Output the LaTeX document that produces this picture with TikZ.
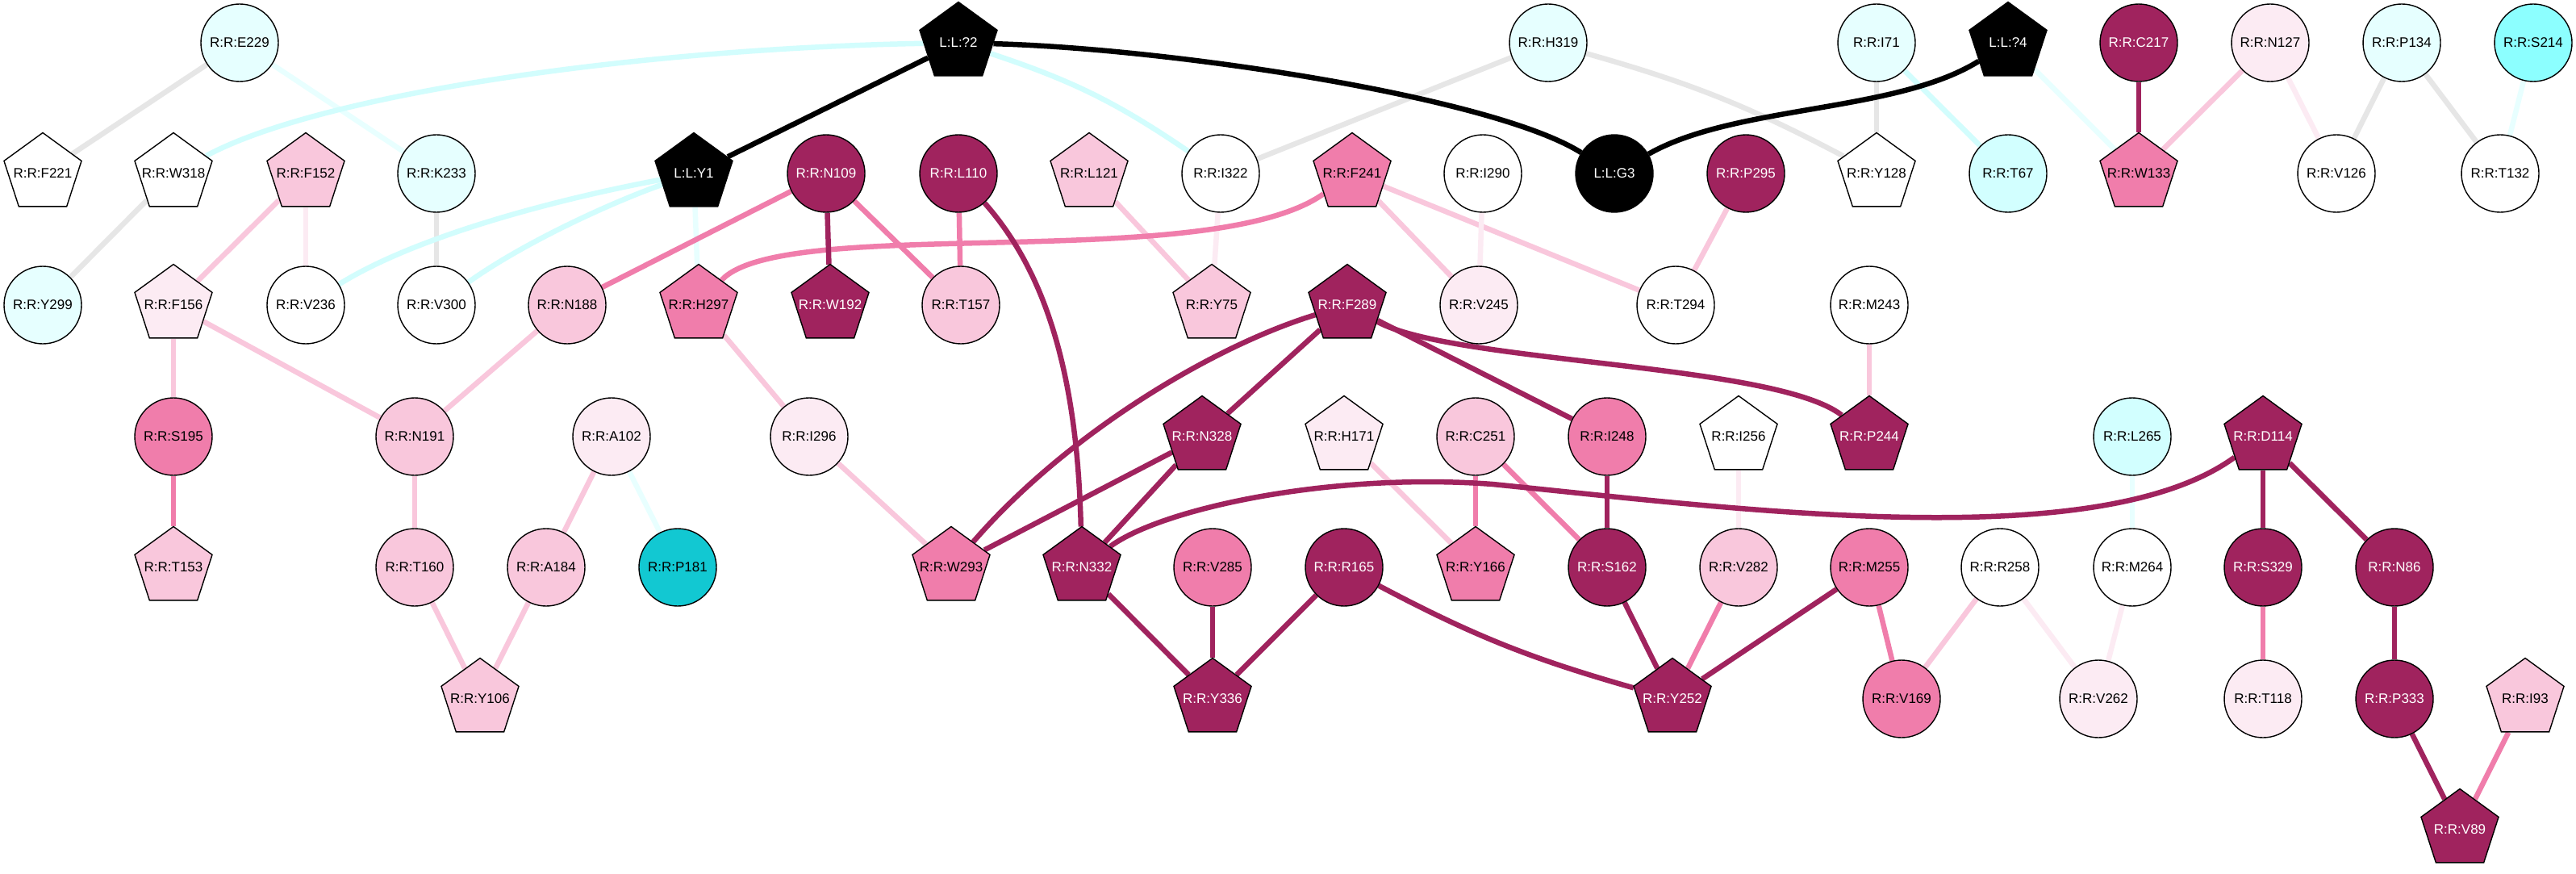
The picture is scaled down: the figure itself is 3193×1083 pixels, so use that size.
\documentclass[tikz,border=0pt]{standalone}
\usepackage{fontspec}
\setmainfont{Liberation Sans}
\usetikzlibrary{shapes.geometric}
\definecolor{cdm}{HTML}{A0235E}
\definecolor{cmp}{HTML}{F07DAB}
\definecolor{clp}{HTML}{F9C7DC}
\definecolor{cvl}{HTML}{FCEBF3}
\definecolor{cya}{HTML}{E6FFFF}
\definecolor{cyb}{HTML}{D2FFFF}
\definecolor{cyc}{HTML}{8CFFFF}
\definecolor{cyd}{HTML}{12C8D2}
\definecolor{cgr}{HTML}{E6E6E6}
\definecolor{ecya}{HTML}{D2FDFD}
\definecolor{ecyb}{HTML}{E8FFFF}
\pgfdeclarelayer{back}
\pgfdeclarelayer{edges}
\pgfsetlayers{back,edges,main}
\newcommand\zw[1]{\makebox[0pt]{#1}}
\begin{document}
\begin{tikzpicture}[x=1pt,y=1pt,
 nb/.style={draw=black,line width=1.4pt,inner sep=0pt,font=\fontsize{17}{20}\selectfont},
 cn/.style={nb,circle,minimum size=96pt},
 pn/.style={nb,regular polygon,regular polygon sides=5,minimum size=101pt},
 fwh/.style={fill=white},
 fca/.style={fill=cya}, fcb/.style={fill=cyb}, fcc/.style={fill=cyc}, fcd/.style={fill=cyd},
 fbk/.style={fill=black,text=white},
 fdm/.style={fill=cdm,text=white},
 fmp/.style={fill=cmp}, flp/.style={fill=clp}, fvl/.style={fill=cvl},
 ed/.style={line width=6.5pt},
 egr/.style={ed,draw=cgr}, eca/.style={ed,draw=ecya}, ecb/.style={ed,draw=ecyb},
 elp/.style={ed,draw=clp}, evl/.style={ed,draw=cvl}, emp/.style={ed,draw=cmp},
 edm/.style={ed,draw=cdm}, ebk/.style={ed,draw=black}]
\begin{pgfonlayer}{back}
\fill[white] (0,0) rectangle (3193,-1083);
\end{pgfonlayer}
\useasboundingbox (0,0) rectangle (3193,-1083);
% row 0
\node[cn,fca] (E229) at (297,-53) {R:R:E229};
\node[pn,fbk] (q2) at (1188,-53) {\zw{L:L:?2}};
\node[cn,fca] (H319) at (1919,-53) {R:R:H319};
\node[cn,fca] (I71) at (2326,-53) {R:R:I71};
\node[pn,fbk] (q4) at (2489,-53) {\zw{L:L:?4}};
\node[cn,fdm] (C217) at (2651,-53) {R:R:C217};
\node[cn,fvl] (N127) at (2814,-53) {R:R:N127};
\node[cn,fca] (P134) at (2977,-53) {R:R:P134};
\node[cn,fcc] (S214) at (3140,-53) {R:R:S214};
% row 1
\node[pn,fwh] (F221) at (53,-215) {\zw{R:R:F221}};
\node[pn,fwh] (W318) at (215,-215) {\zw{R:R:W318}};
\node[pn,flp] (F152) at (379,-215) {\zw{R:R:F152}};
\node[cn,fca] (K233) at (541,-215) {R:R:K233};
\node[pn,fbk] (Y1) at (860,-215) {\zw{L:L:Y1}};
\node[cn,fdm] (N109) at (1024,-215) {R:R:N109};
\node[cn,fdm] (L110) at (1188,-215) {R:R:L110};
\node[pn,flp] (L121) at (1350,-215) {\zw{R:R:L121}};
\node[cn,fwh] (I322) at (1513,-215) {R:R:I322};
\node[pn,fmp] (F241) at (1676,-215) {\zw{R:R:F241}};
\node[cn,fwh] (I290) at (1838,-215) {R:R:I290};
\node[cn,fbk] (G3) at (2001,-215) {L:L:G3};
\node[cn,fdm] (P295) at (2164,-215) {R:R:P295};
\node[pn,fwh] (Y128) at (2326,-215) {\zw{R:R:Y128}};
\node[cn,fcb] (T67) at (2489,-215) {R:R:T67};
\node[pn,fmp] (W133) at (2651,-215) {\zw{R:R:W133}};
\node[cn,fwh] (V126) at (2896,-215) {R:R:V126};
\node[cn,fwh] (T132) at (3099,-215) {R:R:T132};
% row 2
\node[cn,fca] (Y299) at (53,-378) {R:R:Y299};
\node[pn,fvl] (F156) at (215,-378) {\zw{R:R:F156}};
\node[cn,fwh] (V236) at (379,-378) {R:R:V236};
\node[cn,fwh] (V300) at (541,-378) {R:R:V300};
\node[cn,flp] (N188) at (703,-378) {R:R:N188};
\node[pn,fmp] (H297) at (866,-378) {\zw{R:R:H297}};
\node[pn,fdm] (W192) at (1029,-378) {\zw{R:R:W192}};
\node[cn,flp] (T157) at (1191,-378) {R:R:T157};
\node[pn,flp] (Y75) at (1502,-378) {\zw{R:R:Y75}};
\node[pn,fdm] (F289) at (1670,-378) {\zw{R:R:F289}};
\node[cn,fvl] (V245) at (1833,-378) {R:R:V245};
\node[cn,fwh] (T294) at (2077,-378) {R:R:T294};
\node[cn,fwh] (M243) at (2317,-378) {R:R:M243};
% row 3
\node[cn,fmp] (S195) at (215,-541) {R:R:S195};
\node[cn,flp] (N191) at (514,-541) {R:R:N191};
\node[cn,fvl] (A102) at (758,-541) {R:R:A102};
\node[cn,fvl] (I296) at (1003,-541) {R:R:I296};
\node[pn,fdm] (N328) at (1490,-541) {\zw{R:R:N328}};
\node[pn,fvl] (H171) at (1666,-541) {\zw{R:R:H171}};
\node[cn,flp] (C251) at (1829,-541) {R:R:C251};
\node[cn,fmp] (I248) at (1992,-541) {R:R:I248};
\node[pn,fwh] (I256) at (2155,-541) {\zw{R:R:I256}};
\node[pn,fdm] (P244) at (2317,-541) {\zw{R:R:P244}};
\node[cn,fcb] (L265) at (2643,-541) {R:R:L265};
\node[pn,fdm] (D114) at (2805,-541) {\zw{R:R:D114}};
% row 4
\node[pn,flp] (T153) at (215,-703) {\zw{R:R:T153}};
\node[cn,flp] (T160) at (514,-703) {R:R:T160};
\node[cn,flp] (A184) at (677,-703) {R:R:A184};
\node[cn,fcd] (P181) at (840,-703) {R:R:P181};
\node[pn,fmp] (W293) at (1179,-703) {\zw{R:R:W293}};
\node[pn,fdm] (N332) at (1341,-703) {\zw{R:R:N332}};
\node[cn,fmp] (V285) at (1503,-703) {R:R:V285};
\node[cn,fdm] (R165) at (1666,-703) {R:R:R165};
\node[pn,fmp] (Y166) at (1829,-703) {\zw{R:R:Y166}};
\node[cn,fdm] (S162) at (1992,-703) {R:R:S162};
\node[cn,flp] (V282) at (2155,-703) {R:R:V282};
\node[cn,fmp] (M255) at (2317,-703) {R:R:M255};
\node[cn,fwh] (R258) at (2479,-703) {R:R:R258};
\node[cn,fwh] (M264) at (2643,-703) {R:R:M264};
\node[cn,fdm] (S329) at (2805,-703) {R:R:S329};
\node[cn,fdm] (N86) at (2968,-703) {R:R:N86};
% row 5
\node[pn,flp] (Y106) at (595,-866) {\zw{R:R:Y106}};
\node[pn,fdm] (Y336) at (1503,-866) {\zw{R:R:Y336}};
\node[pn,fdm] (Y252) at (2073,-866) {\zw{R:R:Y252}};
\node[cn,fmp] (V169) at (2357,-866) {R:R:V169};
\node[cn,fvl] (V262) at (2601,-866) {R:R:V262};
\node[cn,fvl] (T118) at (2805,-866) {R:R:T118};
\node[cn,fdm] (P333) at (2968,-866) {R:R:P333};
\node[pn,flp] (I93) at (3130,-866) {\zw{R:R:I93}};
% row 6
\node[pn,fdm] (V89) at (3049,-1028) {\zw{R:R:V89}};
\coordinate (dmid) at (1850,-600);
\begin{pgfonlayer}{edges}
% gray
\draw[egr] (E229) -- (F221);
\draw[egr] (W318) -- (Y299);
\draw[egr] (K233) -- (V300);
\draw[egr] (I322) -- (H319);
\draw[egr] (H319) to[bend left=6] (Y128);
\draw[egr] (I71) -- (Y128);
\draw[egr] (P134) -- (V126);
\draw[egr] (P134) -- (T132);
% cyan
\draw[ecb] (E229) -- (K233);
\draw[eca] (W318) .. controls (400,-115) and (800,-60) .. (q2);
\draw[eca] (q2) to[bend left=8] (I322);
\draw[eca] (V236) .. controls (520,-290) and (700,-245) .. (Y1);
\draw[eca] (V300) .. controls (650,-300) and (760,-250) .. (Y1);
\draw[ecb] (Y1) -- (H297);
\draw[eca] (I71) -- (T67);
\draw[ecb] (q4) -- (W133);
\draw[ecb] (S214) -- (T132);
\draw[ecb] (A102) -- (P181);
\draw[ecb] (L265) -- (M264);
% black
\draw[ebk] (q2) -- (Y1);
\draw[ebk] (q2) .. controls (1450,-60) and (1850,-120) .. (G3);
\draw[ebk] (G3) .. controls (2150,-130) and (2350,-140) .. (q4);
% pinks
\draw[elp] (F152) -- (F156);
\draw[evl] (F152) -- (V236);
\draw[elp] (F156) -- (S195);
\draw[elp] (F156) -- (N191);
\draw[elp] (N188) -- (N191);
\draw[emp] (N188) -- (N109);
\draw[emp] (N109) -- (T157);
\draw[emp] (L110) -- (T157);
\draw[elp] (L121) -- (Y75);
\draw[evl] (I322) -- (Y75);
\draw[emp] (H297) .. controls (970,-265) and (1500,-340) .. (F241);
\draw[elp] (H297) -- (I296);
\draw[elp] (I296) -- (W293);
\draw[elp] (F241) -- (V245);
\draw[elp] (F241) -- (T294);
\draw[evl] (I290) -- (V245);
\draw[elp] (P295) -- (T294);
\draw[elp] (M243) -- (P244);
\draw[elp] (N127) -- (W133);
\draw[evl] (N127) -- (V126);
\draw[emp] (S195) -- (T153);
\draw[elp] (N191) -- (T160);
\draw[elp] (A102) -- (A184);
\draw[elp] (T160) -- (Y106);
\draw[elp] (A184) -- (Y106);
\draw[elp] (H171) -- (Y166);
\draw[emp] (C251) -- (Y166);
\draw[emp] (C251) -- (S162);
\draw[evl] (I256) -- (V282);
\draw[emp] (V282) -- (Y252);
\draw[emp] (M255) -- (V169);
\draw[elp] (R258) -- (V169);
\draw[evl] (R258) -- (V262);
\draw[evl] (M264) -- (V262);
\draw[emp] (S329) -- (T118);
\draw[emp] (I93) -- (V89);
% dark magenta
\draw[edm] (N109) -- (W192);
\draw[edm] (C217) -- (W133);
\draw[edm] (L110) .. controls (1290,-330) and (1335,-450) .. (N332);
\draw[edm] (F289) .. controls (1500,-430) and (1320,-540) .. (W293);
\draw[edm] (F289) -- (N328);
\draw[edm] (F289) -- (I248);
\draw[edm] (F289) .. controls (1800,-450) and (2200,-450) .. (P244);
\draw[edm] (N328) -- (W293);
\draw[edm] (N328) -- (N332);
\draw[edm] (N332) .. controls (1440,-630) and (1650,-585) .. (dmid) .. controls (2150,-630) and (2600,-690) .. (D114);
\draw[edm] (N332) -- (Y336);
\draw[edm] (V285) -- (Y336);
\draw[edm] (R165) -- (Y336);
\draw[edm] (R165) to[bend right=6] (Y252);
\draw[edm] (I248) -- (S162);
\draw[edm] (S162) -- (Y252);
\draw[edm] (M255) -- (Y252);
\draw[edm] (D114) -- (S329);
\draw[edm] (D114) -- (N86);
\draw[edm] (N86) -- (P333);
\draw[edm] (P333) -- (V89);
\end{pgfonlayer}
\end{tikzpicture}
\end{document}
